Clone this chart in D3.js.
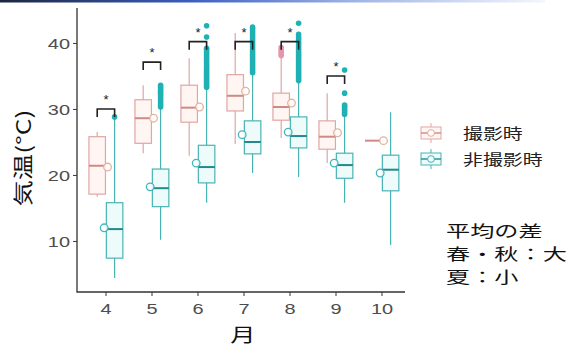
<!DOCTYPE html>
<html>
<head>
<meta charset="utf-8">
<script src="https://cdn.jsdelivr.net/npm/d3@7"></script>
<style>
  html, body { margin: 0; padding: 0; background: #fff; }
  svg { display: block; }
</style>
</head>
<body>
<svg id="chart" width="584" height="347"></svg>
<script>
// Monthly air temperature: photographed vs. not photographed
const months = ["4", "5", "6", "7", "8", "9", "10"];
const groups = ["撮影時", "非撮影時"];
const yTicks = [10, 20, 30, 40];

// box statistics per month: [lower whisker, Q1, median, Q3, upper whisker]
const photoBox = [
  [16.7, 17.1, 21.4, 25.8, 26.5],
  [23.3, 24.8, 28.6, 31.4, 33.6],
  [22.9, 28.0, 30.2, 33.6, 37.7],
  [24.7, 29.7, 32.0, 35.2, 41.5],
  [25.6, 28.3, 30.3, 32.4, 37.8],
  [21.8, 23.9, 25.8, 28.2, 32.4],
  [25.2, 25.2, 25.2, 25.2, 25.2]
];
const nonPhotoBox = [
  [4.4, 7.4, 11.8, 15.8, 28.5],
  [10.2, 15.2, 18.0, 20.9, 30.0],
  [15.8, 18.8, 21.2, 24.5, 33.0],
  [20.3, 23.2, 25.0, 28.2, 35.2],
  [19.7, 24.1, 25.9, 28.8, 34.0],
  [15.8, 19.5, 21.5, 23.3, 28.9],
  [9.4, 17.6, 20.8, 23.0, 29.5]
];
const photoMean = [21.2, 28.6, 30.3, 32.7, 30.9, 26.4, 25.2];
const nonPhotoMean = [12.0, 18.2, 21.8, 26.1, 26.5, 21.8, 20.3];

const photoOutliers = [
  [], [], [], [],
  [38.1, 38.4, 38.7, 39.0, 39.3],
  [], []
];
const nonPhotoOutliers = [
  [28.8],
  [30.3, 30.6, 30.9, 31.2, 31.5, 31.8, 32.1, 32.4, 32.7, 33.0, 33.3, 33.6],
  [33.3, 33.6, 33.9, 34.2, 34.5, 34.8, 35.1, 35.4, 35.7, 36.0, 36.3, 36.6,
   36.9, 37.2, 37.5, 37.8, 38.1, 38.4, 38.7, 39.0, 39.2, 40.9, 42.6],
  [35.5, 35.8, 36.1, 36.4, 36.7, 37.0, 37.3, 37.6, 37.9, 38.2, 38.5, 38.8,
   39.1, 39.4, 39.7, 40.0, 40.3, 40.6, 40.9, 41.2, 41.5, 41.8, 42.1, 42.4],
  [34.3, 34.6, 34.9, 35.2, 35.5, 35.8, 36.1, 36.4, 36.7, 37.0, 37.3, 37.6,
   37.9, 38.2, 38.5, 38.8, 39.1, 39.4, 39.7, 40.0, 40.3, 40.6, 40.9, 41.3, 43.0],
  [29.2, 29.5, 29.8, 30.1, 30.4, 30.6, 32.4, 35.9],
  []
];

// significance brackets (temperature level of the bar) and their labels
const sigMonths = ["4", "5", "6", "7", "8", "9"];
const sigLevel = [30.0, 37.1, 40.2, 40.2, 40.2, 35.0];
const sigLabel = ["*", "*", "*", "*", "*", "*"];

const noteLines = ["平均の差", "春・秋：大", "夏：小"];

// ---------------------------------------------------------------
const svg = d3.select("#chart");
const JP = "'Noto Sans CJK JP', 'Noto Sans', sans-serif";
const NUM = "'Liberation Sans', Arial, sans-serif";
const SX = 1.33; // horizontal text stretch

const col = {
  photo: { stroke: "#dfa6a3", median: "#cf8a86", fill: "#fff6f3", mean: "#e2b29e", out: "#e596a8" },
  non:   { stroke: "#49b3b3", median: "#23898b", fill: "#eefbfb", mean: "#3fb7bd", out: "#1fb1b3" }
};

// header strip
const grad = svg.append("defs").append("linearGradient").attr("id", "hdr");
grad.selectAll("stop").data([
  ["0%", "#1c2640"], ["35%", "#3b5fc0"], ["65%", "#9fb4e6"], ["100%", "#f4f6fc"]
]).join("stop").attr("offset", d => d[0]).attr("stop-color", d => d[1]);
svg.append("rect").attr("x", 0).attr("y", 0).attr("width", 545).attr("height", 2.5)
  .attr("fill", "url(#hdr)");

const x = d3.scaleBand().domain(months).range([83, 405]);
const y = d3.scaleLinear().domain([2.27, 45.3]).range([292, 8]);
const dodge = d3.scaleOrdinal().domain(groups).range([-8.8, 8.6]);
const meanShift = d3.scaleOrdinal().domain(groups).range([1.5, -1.8]);
const bw = 16.5;
const mid = m => x(m) + x.bandwidth() / 2;

// axes
const yAxis = svg.append("g").attr("transform", "translate(77,0)")
  .call(d3.axisLeft(y).tickValues(yTicks).tickSize(4).tickSizeOuter(0).tickPadding(6));
const xAxis = svg.append("g").attr("transform", "translate(0,292)")
  .call(d3.axisBottom(x).tickSize(4).tickSizeOuter(0).tickPadding(8));
[yAxis, xAxis].forEach(a => {
  a.select(".domain").remove();
  a.selectAll(".tick line").attr("stroke", "#444").attr("stroke-width", 1.1);
  a.selectAll(".tick text").attr("fill", "#4d4d4d").attr("font-size", 15).attr("font-family", NUM);
});
// horizontally stretched tick labels
yAxis.selectAll(".tick text")
  .attr("x", 0).attr("y", 0).attr("dy", null).attr("dominant-baseline", "central")
  .attr("transform", `translate(-7,0.5) scale(${SX},1)`);
xAxis.selectAll(".tick text")
  .attr("x", 0).attr("y", 0).attr("dy", "0.71em")
  .attr("transform", `translate(0,11) scale(${SX},1)`);
// panel frame (left and bottom)
svg.append("path").attr("d", "M77,8V292H405")
  .attr("fill", "none").attr("stroke", "#333").attr("stroke-width", 1.3);

// axis titles
svg.append("text").text("月")
  .attr("font-family", JP).attr("font-size", 19).attr("fill", "#111").attr("text-anchor", "middle")
  .attr("transform", `translate(243,342) scale(${SX},1)`);
svg.append("text").text("気温(°C)")
  .attr("font-family", JP).attr("font-size", 20).attr("fill", "#111").attr("text-anchor", "middle")
  .attr("textLength", 97).attr("lengthAdjust", "spacingAndGlyphs")
  .attr("transform", "translate(31,158) rotate(-90)");

// boxes
function rows(stats, means, outs, g) {
  return months.map((m, i) => ({
    m, g, lo: stats[i][0], q1: stats[i][1], med: stats[i][2], q3: stats[i][3], hi: stats[i][4],
    mean: means[i], outs: outs[i]
  }));
}
const data = rows(photoBox, photoMean, photoOutliers, groups[0])
  .concat(rows(nonPhotoBox, nonPhotoMean, nonPhotoOutliers, groups[1]));
const cx = d => mid(d.m) + dodge(d.g);
const cc = d => d.g === groups[0] ? col.photo : col.non;

const plot = svg.append("g");
const bx = plot.selectAll("g.box").data(data).join("g").attr("class", "box");
bx.append("line")
  .attr("x1", cx).attr("x2", cx).attr("y1", d => y(d.hi)).attr("y2", d => y(d.lo))
  .attr("stroke", d => cc(d).stroke).attr("stroke-width", 1.2);
bx.append("rect")
  .attr("x", d => cx(d) - bw / 2).attr("width", bw)
  .attr("y", d => y(d.q3)).attr("height", d => y(d.q1) - y(d.q3))
  .attr("fill", d => cc(d).fill).attr("stroke", d => cc(d).stroke).attr("stroke-width", 1.2);
bx.append("line")
  .attr("x1", d => cx(d) - bw / 2).attr("x2", d => cx(d) + bw / 2)
  .attr("y1", d => y(d.med)).attr("y2", d => y(d.med))
  .attr("stroke", d => cc(d).median).attr("stroke-width", 2);
bx.selectAll("circle.out").data(d => d.outs.map(v => ({ v, d }))).join("circle")
  .attr("class", "out")
  .attr("cx", o => cx(o.d)).attr("cy", o => y(o.v)).attr("r", 2.8)
  .attr("fill", o => cc(o.d).out);
bx.append("circle")
  .attr("cx", d => mid(d.m) + meanShift(d.g)).attr("cy", d => y(d.mean)).attr("r", 3.8)
  .attr("fill", "#fff").attr("fill-opacity", 0.85)
  .attr("stroke", d => cc(d).mean).attr("stroke-width", 1.3);

// significance brackets
const sig = plot.selectAll("g.sig").data(sigMonths.map((m, i) => ({ m, lv: sigLevel[i], lab: sigLabel[i] })))
  .join("g").attr("class", "sig");
sig.append("path")
  .attr("d", d => {
    const c = mid(d.m), yy = y(d.lv);
    return `M${c + dodge(groups[0])},${yy + 8}V${yy}H${c + dodge(groups[1])}V${yy + 8}`;
  })
  .attr("fill", "none").attr("stroke", "#222").attr("stroke-width", 1.6);
sig.append("text").text(d => d.lab)
  .attr("x", d => mid(d.m)).attr("y", d => y(d.lv) - 5)
  .attr("text-anchor", "middle").attr("font-family", NUM).attr("font-size", 13).attr("fill", "#222");

// legend
const legend = svg.append("g");
const lg = legend.selectAll("g").data(groups).join("g")
  .attr("transform", (d, i) => `translate(431,${133 + i * 26})`);
const lc = i => i ? col.non : col.photo;
lg.append("line").attr("y1", -10).attr("y2", 10)
  .attr("stroke", (d, i) => lc(i).stroke).attr("stroke-width", 1);
lg.append("rect").attr("x", -10).attr("y", -6).attr("width", 20).attr("height", 12)
  .attr("fill", (d, i) => lc(i).fill)
  .attr("stroke", (d, i) => lc(i).stroke).attr("stroke-width", 1);
lg.append("line").attr("x1", -10).attr("x2", 10)
  .attr("stroke", (d, i) => lc(i).median).attr("stroke-width", 1.4);
lg.append("circle").attr("r", 3.3).attr("fill", "#fff")
  .attr("stroke", (d, i) => lc(i).mean).attr("stroke-width", 1.1);
lg.append("text").text(d => d)
  .attr("font-family", JP).attr("font-size", 15).attr("fill", "#222")
  .attr("dominant-baseline", "central")
  .attr("transform", `translate(32,0) scale(${SX},1)`);

// note block, three lines
svg.append("g").selectAll("text").data(noteLines).join("text")
  .attr("font-family", JP).attr("font-size", 15.8).attr("fill", "#111")
  .attr("transform", (d, i) => `translate(446,${236.5 + i * 23}) scale(1.53,1)`)
  .text(d => d);
</script>
</body>
</html>
